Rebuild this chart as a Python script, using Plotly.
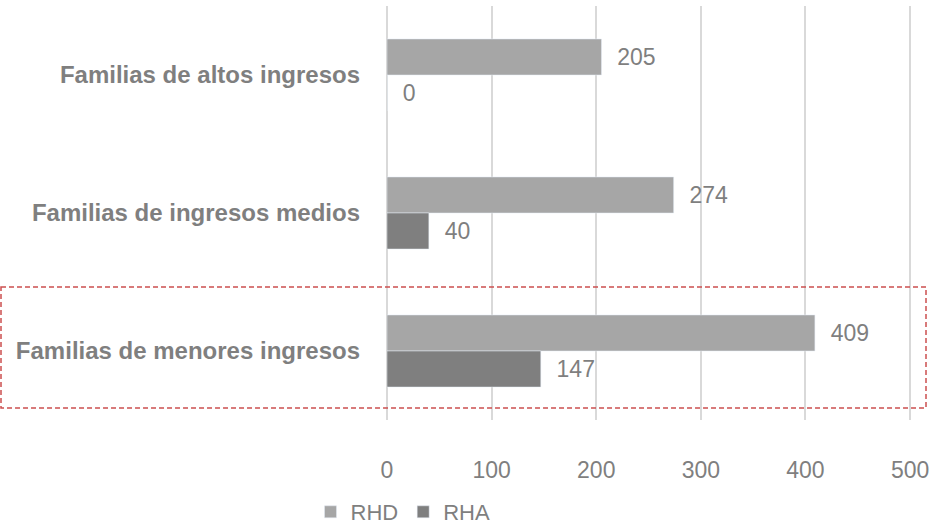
import plotly.graph_objects as go

categories = ["Familias de altos ingresos", "Familias de ingresos medios", "Familias de menores ingresos"]
rhd = [205, 274, 409]
rha = [0, 40, 147]
x_ticks = [0, 100, 200, 300, 400, 500]

W, H = 946, 525
ML, MR, MT, MB = 387, 15, 6, 105
FONT = "Liberation Sans Narrow, Arial Narrow, Liberation Sans, Arial, sans-serif"
GRAY = "#7F7F7F"

fig = go.Figure()
fig.add_trace(go.Bar(
    y=categories, x=rhd, name="RHD", orientation="h",
    marker=dict(color="#A6A6A6"),
    text=rhd, texttemplate="  %{x}", textposition="outside",
    textfont=dict(family=FONT, size=23, color=GRAY), cliponaxis=False,
))
fig.add_trace(go.Bar(
    y=categories, x=rha, name="RHA", orientation="h",
    marker=dict(color="#7F7F7F"),
    text=rha, texttemplate="  %{x}", textposition="outside",
    textfont=dict(family=FONT, size=23, color=GRAY), cliponaxis=False,
))

plot_w = W - ML - MR
plot_h = H - MT - MB
fig.add_shape(
    type="rect", xref="paper", yref="y",
    x0=(1 - ML) / plot_w, x1=(926 - ML) / plot_w,
    y0=1.536, y1=2.413,
    line=dict(color="#CC4F4F", width=1.5, dash="5px,3px"),
    fillcolor="rgba(0,0,0,0)", layer="above",
)

fig.update_layout(
    width=W, height=H,
    margin=dict(l=ML, r=MR, t=MT, b=MB, autoexpand=False),
    paper_bgcolor="white", plot_bgcolor="white",
    barmode="group", bargap=0.478, bargroupgap=0,
    font=dict(family=FONT, color=GRAY),
    showlegend=True,
    legend=dict(
        orientation="h", xref="container", yref="container",
        x=403 / W, xanchor="center",
        y=(H - 512) / H, yanchor="middle",
        font=dict(family=FONT, size=22, color=GRAY),
        itemwidth=30, tracegroupgap=0,
    ),
    xaxis=dict(
        range=[0, 520], tickvals=x_ticks, ticktext=[str(v) for v in x_ticks],
        showgrid=True, gridcolor="#D9D9D9", gridwidth=1.5,
        zeroline=True, zerolinecolor="#D9D9D9", zerolinewidth=2,
        showline=False, ticks="", automargin=False,
        tickfont=dict(family=FONT, size=23, color=GRAY),
        ticklabelstandoff=34,
    ),
    yaxis=dict(
        categoryorder="array", categoryarray=categories, autorange="reversed",
        showgrid=False, zeroline=False, showline=False, ticks="", automargin=False,
        tickfont=dict(family=FONT, size=24, color=GRAY, weight="bold"),
        ticklabelstandoff=26,
    ),
)

fig.write_html(
    "out.html",
    config={"displayModeBar": False},
    post_script="document.body.style.margin='0';document.body.style.padding='0';",
)
